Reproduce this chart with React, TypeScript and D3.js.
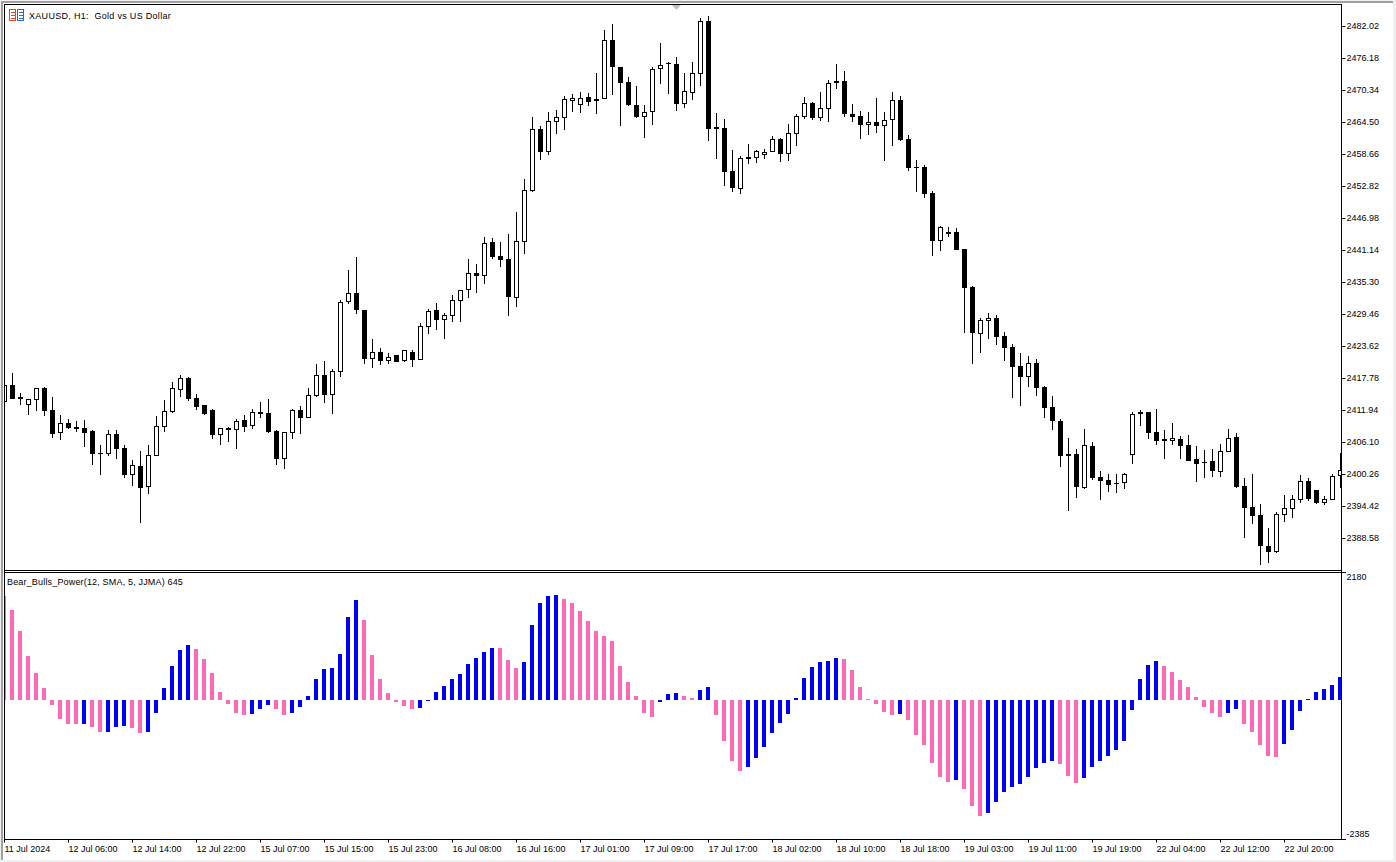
import * as d3 from "d3";
import { useEffect, useRef } from "react";

const title = "XAUUSD, H1:  Gold vs US Dollar";
const powerTitle = "Bear_Bulls_Power(12, SMA, 5, JJMA) 645";

const priceTicks = [
  2482.02, 2476.18, 2470.34, 2464.5, 2458.66, 2452.82, 2446.98, 2441.14, 2435.3,
  2429.46, 2423.62, 2417.78, 2411.94, 2406.1, 2400.26, 2394.42, 2388.58,
];
const powerTicks = [2180, -2385];
const timeLabels = [
  "11 Jul 2024", "12 Jul 06:00", "12 Jul 14:00", "12 Jul 22:00", "15 Jul 07:00", "15 Jul 15:00", "15 Jul 23:00",
  "16 Jul 08:00", "16 Jul 16:00", "17 Jul 01:00", "17 Jul 09:00", "17 Jul 17:00", "18 Jul 02:00", "18 Jul 10:00",
  "18 Jul 18:00", "19 Jul 03:00", "19 Jul 11:00", "19 Jul 19:00", "22 Jul 04:00", "22 Jul 12:00", "22 Jul 20:00",
];

const opens = [
  2413.40, 2416.50, 2414.31, 2412.85, 2413.77, 2415.95, 2411.94, 2407.74, 2409.57, 2408.84, 2408.66, 2408.11,
  2404.09, 2403.91, 2407.56, 2405.00, 2400.08, 2401.72, 2397.89, 2403.54, 2408.84, 2411.58, 2415.59, 2417.78,
  2414.13, 2412.85, 2411.94, 2407.38, 2408.66, 2408.29, 2410.12, 2409.02, 2411.58, 2411.39, 2408.11, 2402.99,
  2407.74, 2411.94, 2410.48, 2414.50, 2418.33, 2414.68, 2418.87, 2431.65, 2433.29, 2430.19, 2421.25, 2422.53,
  2420.88, 2421.98, 2420.88, 2422.53, 2421.07, 2427.09, 2430.19, 2428.37, 2429.10, 2431.83, 2433.84, 2436.94,
  2436.39, 2442.60, 2440.05, 2439.50, 2432.38, 2442.60, 2451.91, 2463.22, 2459.03, 2464.50, 2465.23, 2468.33,
  2467.60, 2469.06, 2468.33, 2468.70, 2479.47, 2474.54, 2471.80, 2467.60, 2465.41, 2466.33, 2474.17, 2475.27,
  2475.09, 2467.78, 2469.79, 2473.26, 2482.93, 2463.59, 2463.40, 2455.56, 2452.27, 2458.11, 2457.93, 2458.48,
  2459.03, 2461.40, 2458.66, 2462.31, 2465.41, 2467.97, 2465.23, 2466.87, 2471.62, 2471.98, 2465.96, 2465.59,
  2463.95, 2464.50, 2463.77, 2464.87, 2468.52, 2461.40, 2456.29, 2456.29, 2451.54, 2442.78, 2444.42, 2444.42,
  2441.32, 2434.39, 2425.81, 2428.18, 2428.73, 2425.44, 2423.44, 2419.97, 2417.96, 2420.52, 2416.13, 2412.49,
  2409.93, 2403.91, 2403.91, 2397.70, 2405.37, 2399.72, 2399.17, 2398.62, 2398.62, 2403.73, 2411.58, 2411.58,
  2407.92, 2406.65, 2406.28, 2406.65, 2405.55, 2402.99, 2402.45, 2402.63, 2400.63, 2404.27, 2407.01, 2398.07,
  2394.24, 2392.78, 2387.12, 2386.03, 2392.78, 2393.87, 2395.52, 2398.98, 2397.34, 2394.97, 2395.52, 2399.89,
];
const closes = [
  2416.50, 2413.95, 2413.95, 2413.95, 2415.95, 2411.76, 2407.56, 2409.57, 2408.66, 2408.47, 2407.74, 2403.91,
  2403.91, 2407.56, 2404.82, 2400.08, 2401.90, 2397.70, 2403.73, 2409.02, 2411.76, 2415.95, 2417.78, 2413.95,
  2412.49, 2411.21, 2407.38, 2408.66, 2408.29, 2409.93, 2408.84, 2411.58, 2411.21, 2407.92, 2402.99, 2407.92,
  2411.94, 2410.48, 2414.68, 2418.33, 2414.68, 2419.06, 2431.65, 2433.29, 2430.19, 2421.25, 2422.53, 2420.88,
  2421.61, 2420.70, 2422.89, 2421.07, 2427.27, 2430.01, 2428.37, 2429.28, 2432.02, 2433.84, 2436.94, 2436.39,
  2442.42, 2439.86, 2439.31, 2432.56, 2442.78, 2452.09, 2463.22, 2459.03, 2464.68, 2465.41, 2468.70, 2468.88,
  2468.88, 2468.15, 2468.70, 2479.47, 2474.54, 2471.62, 2467.60, 2465.41, 2466.33, 2474.17, 2474.90, 2475.09,
  2467.78, 2470.16, 2473.44, 2482.93, 2463.22, 2463.22, 2455.38, 2452.46, 2457.93, 2457.75, 2459.21, 2459.03,
  2461.40, 2458.66, 2462.49, 2465.59, 2467.97, 2465.23, 2467.05, 2471.62, 2471.98, 2465.96, 2465.41, 2463.95,
  2464.50, 2463.77, 2464.87, 2468.52, 2461.22, 2456.11, 2456.11, 2451.36, 2442.78, 2445.34, 2444.06, 2441.14,
  2434.21, 2425.99, 2428.37, 2428.73, 2425.26, 2423.25, 2419.79, 2417.96, 2420.52, 2415.95, 2412.30, 2409.93,
  2403.54, 2403.54, 2397.89, 2405.55, 2399.53, 2398.98, 2398.25, 2398.43, 2400.26, 2411.21, 2411.21, 2407.74,
  2406.28, 2406.28, 2406.83, 2405.37, 2402.63, 2402.09, 2402.27, 2400.81, 2404.46, 2406.83, 2397.89, 2394.05,
  2392.59, 2387.12, 2386.03, 2392.96, 2394.05, 2395.70, 2398.98, 2395.70, 2394.97, 2395.70, 2399.89, 2400.99,
];
const highs = [
  2416.50, 2418.69, 2415.04, 2413.95, 2415.95, 2416.13, 2414.31, 2411.03, 2410.30, 2409.93, 2410.12, 2408.29,
  2405.55, 2408.29, 2408.29, 2405.55, 2402.81, 2404.46, 2405.55, 2410.85, 2413.77, 2417.05, 2418.33, 2417.96,
  2414.86, 2412.85, 2412.12, 2408.66, 2408.84, 2410.30, 2411.03, 2412.12, 2413.40, 2413.95, 2408.29, 2407.92,
  2412.12, 2412.67, 2415.95, 2420.32, 2420.88, 2419.42, 2432.02, 2437.49, 2439.86, 2430.19, 2424.90, 2423.25,
  2422.34, 2421.98, 2422.89, 2422.89, 2427.82, 2430.37, 2431.47, 2429.64, 2432.93, 2433.84, 2439.50, 2438.58,
  2443.51, 2443.33, 2442.60, 2444.06, 2448.08, 2454.10, 2465.41, 2463.77, 2466.33, 2466.69, 2469.25, 2469.61,
  2469.97, 2469.79, 2473.44, 2481.29, 2482.39, 2474.54, 2472.71, 2471.07, 2467.60, 2474.54, 2478.92, 2475.45,
  2476.36, 2473.44, 2475.45, 2483.48, 2483.85, 2466.14, 2465.05, 2459.39, 2458.29, 2460.49, 2459.39, 2459.57,
  2461.95, 2461.58, 2464.14, 2465.96, 2469.06, 2468.15, 2469.97, 2472.17, 2475.09, 2473.81, 2467.78, 2466.51,
  2466.33, 2468.88, 2466.33, 2469.97, 2469.25, 2462.13, 2457.57, 2456.65, 2451.91, 2445.52, 2445.34, 2445.16,
  2441.32, 2434.57, 2428.73, 2429.64, 2429.28, 2426.18, 2423.98, 2422.34, 2421.79, 2421.25, 2416.32, 2414.50,
  2410.30, 2406.83, 2404.82, 2408.47, 2406.10, 2400.81, 2400.26, 2400.26, 2400.44, 2411.58, 2411.94, 2411.58,
  2412.12, 2408.29, 2409.57, 2407.19, 2407.38, 2405.37, 2404.64, 2404.82, 2405.73, 2408.47, 2407.74, 2399.53,
  2400.26, 2394.78, 2390.41, 2393.33, 2396.43, 2396.43, 2400.08, 2399.53, 2397.34, 2396.25, 2400.26, 2404.09,
];
const lows = [
  2413.40, 2413.95, 2412.85, 2411.03, 2411.76, 2410.85, 2406.83, 2406.47, 2408.47, 2407.92, 2405.19, 2401.90,
  2400.08, 2403.54, 2402.99, 2399.53, 2398.07, 2391.32, 2396.61, 2403.54, 2407.92, 2411.39, 2414.31, 2413.58,
  2411.94, 2411.03, 2406.65, 2405.55, 2406.10, 2404.82, 2407.92, 2408.47, 2410.48, 2407.74, 2401.90, 2401.17,
  2406.65, 2407.56, 2410.48, 2414.31, 2413.22, 2411.21, 2417.96, 2431.28, 2429.46, 2420.32, 2419.60, 2420.15,
  2420.32, 2420.70, 2420.70, 2419.79, 2421.07, 2425.81, 2426.54, 2424.90, 2428.00, 2428.00, 2432.38, 2433.29,
  2434.93, 2439.50, 2438.04, 2429.10, 2430.74, 2440.41, 2451.73, 2457.57, 2458.48, 2462.31, 2463.04, 2466.33,
  2466.14, 2467.42, 2465.96, 2468.70, 2469.43, 2463.77, 2467.42, 2465.23, 2461.58, 2463.95, 2471.44, 2469.61,
  2466.51, 2467.05, 2468.52, 2471.07, 2461.03, 2457.75, 2452.82, 2451.73, 2451.36, 2456.84, 2457.02, 2457.75,
  2459.03, 2457.20, 2457.38, 2460.12, 2465.05, 2464.87, 2464.68, 2464.50, 2470.52, 2465.41, 2464.50, 2461.40,
  2462.13, 2462.49, 2457.38, 2460.12, 2461.03, 2455.56, 2451.73, 2450.63, 2440.05, 2440.96, 2443.51, 2441.14,
  2425.99, 2420.32, 2422.34, 2424.90, 2423.80, 2420.88, 2414.13, 2412.67, 2416.13, 2414.50, 2410.48, 2408.29,
  2401.54, 2393.51, 2395.88, 2397.52, 2399.17, 2395.52, 2396.98, 2396.79, 2397.52, 2402.09, 2409.02, 2406.65,
  2405.55, 2402.99, 2405.55, 2402.99, 2402.63, 2398.80, 2399.53, 2399.72, 2399.72, 2404.27, 2397.70, 2388.58,
  2391.14, 2383.65, 2384.02, 2385.85, 2391.50, 2392.23, 2394.97, 2395.33, 2394.78, 2394.60, 2395.52, 2397.70,
];

const powerValues = [
  1847, 1598, 1225, 781, 480, 213, -89, -337, -426, -426, -426, -480,
  -568, -568, -480, -462, -497, -586, -568, -231, 213, 604, 888, 977,
  906, 728, 480, 142, -71, -231, -266, -249, -160, -89, -160, -266,
  -231, -124, 71, 373, 551, 568, 817, 1474, 1776, 1421, 799, 373,
  124, -36, -107, -160, -142, -18, 142, 249, 373, 462, 639, 746,
  852, 924, 924, 710, 568, 675, 1332, 1723, 1847, 1865, 1794, 1723,
  1581, 1403, 1225, 1137, 1048, 604, 320, 71, -231, -302, -36, 107,
  124, 71, 36, 178, 231, -266, -728, -1083, -1261, -1190, -1030, -835,
  -586, -408, -249, 36, 391, 586, 675, 693, 746, 728, 533, 231,
  18, -71, -213, -266, -249, -355, -622, -799, -1119, -1368, -1456, -1421,
  -1581, -1883, -2060, -2007, -1812, -1634, -1545, -1492, -1368, -1208, -1119, -1083,
  -1137, -1350, -1474, -1385, -1190, -1083, -995, -888, -728, -178, 373, 622,
  693, 604, 497, 355, 231, 53, -124, -231, -302, -231, -160, -426,
  -568, -799, -995, -1012, -781, -533, -195, 18, 142, 195, 266, 408,
];
// one letter per bar: p = pink, b = blue
const powerColors = [
  "pppppppppp", "b", "pp", "bbb", "pp", "bbbbbb", "ppppppp", "bbb", "pp", "bbbbbbbbb", "ppppppp",
  "bbbbbbbbbb", "ppp", "bbbbb", "pppppppppppp", "bbb", "pp", "bb", "pppp", "bbbbbbbbbbbb", "ppppppp",
  "b", "pppppp", "b", "ppp", "bbbbbbbbb", "ppp", "bbbbbbbbbb", "pppppppp", "bb", "ppppp", "bbbbbbbb",
].join("");

const FONT = "'Liberation Sans', Arial, sans-serif";

const App = () => {
  const svgRef = useRef<SVGSVGElement | null>(null);

  useEffect(() => {
    const width = 1396;
    const height = 862;
    const left = 4;
    const right = 1341;
    const top = 4;
    const mainBottom = 570;
    const subTop = 572;
    const bottom = 839;

    const svg = d3.select(svgRef.current);
    svg.selectAll("*").remove();

    // window chrome
    svg.append("rect").attr("width", width).attr("height", height).attr("fill", "#f0f0f0");
    svg.append("rect").attr("x", 3).attr("y", 3).attr("width", 1390).attr("height", 857).attr("fill", "#ffffff");
    svg.append("rect").attr("x", 1).attr("y", 1).attr("width", 2).attr("height", 859).attr("fill", "#a0a0a0");
    svg.append("rect").attr("x", 1).attr("y", 1).attr("width", 1392).attr("height", 2).attr("fill", "#a0a0a0");

    const defs = svg.append("defs");
    defs.append("clipPath").attr("id", "mainClip").append("rect")
      .attr("x", left + 1).attr("y", top + 1).attr("width", right - left - 1).attr("height", mainBottom - top - 1);
    defs.append("clipPath").attr("id", "subClip").append("rect")
      .attr("x", left + 1).attr("y", subTop + 1).attr("width", right - left - 1).attr("height", bottom - subTop - 1);

    const x = d3.scaleLinear().domain([0, opens.length - 1]).range([4.5, 1340.5]);
    const y = d3.scaleLinear().domain([2482.02, 2388.58]).range([26.5, 538.5]);
    const yPower = d3.scaleLinear().domain([2180, -2385]).range([577.3, 834.3]);
    const px = (v: number) => Math.floor(y(v));

    // candles
    const candles = svg.append("g").attr("clip-path", "url(#mainClip)");
    opens.forEach((open, i) => {
      const close = closes[i];
      const cx = x(i);
      const bodyTop = px(Math.max(open, close));
      const bodyBottom = px(Math.min(open, close));
      candles.append("line")
        .attr("x1", cx).attr("x2", cx)
        .attr("y1", px(highs[i])).attr("y2", px(lows[i]))
        .attr("stroke", "#000");
      if (close > open) {
        candles.append("rect")
          .attr("x", cx - 2).attr("width", 4)
          .attr("y", bodyTop + 0.5).attr("height", Math.max(bodyBottom - bodyTop - 1, 1))
          .attr("fill", "#fff").attr("stroke", "#000");
      } else {
        candles.append("rect")
          .attr("x", cx - 2.5).attr("width", 5)
          .attr("y", bodyTop).attr("height", Math.max(bodyBottom - bodyTop, 1))
          .attr("fill", "#000");
      }
    });

    // histogram
    const zero = Math.round(yPower(0));
    svg.append("g").attr("clip-path", "url(#subClip)")
      .selectAll("rect")
      .data(powerValues)
      .enter()
      .append("rect")
      .attr("x", (_, i) => x(i) - 2.5)
      .attr("width", 4)
      .attr("y", (d) => (d >= 0 ? Math.round(yPower(d)) : zero))
      .attr("height", (d) => Math.max(Math.abs(Math.round(yPower(d)) - zero), 1))
      .attr("fill", (_, i) => (powerColors[i] === "p" ? "#ff69b4" : "#0000ff"));

    // frames
    const frame = svg.append("g").attr("stroke", "#000").attr("fill", "none");
    const hLine = (yy: number, x2: number) =>
      frame.append("line").attr("x1", left).attr("x2", x2).attr("y1", yy + 0.5).attr("y2", yy + 0.5);
    hLine(top, right + 1);
    hLine(mainBottom, right + 1);
    hLine(subTop, right + 5);
    hLine(bottom, right + 5);
    frame.append("line").attr("x1", left + 0.5).attr("x2", left + 0.5).attr("y1", top).attr("y2", bottom + 1);
    frame.append("line").attr("x1", right + 0.5).attr("x2", right + 0.5).attr("y1", top).attr("y2", bottom + 1);

    // axes
    const priceAxis = d3.axisRight(y).tickValues(priceTicks).tickFormat(d3.format(".2f")).tickSize(4).tickPadding(1).offset(0);
    const gPrice = svg.append("g").attr("transform", `translate(${right + 0.5}, 0)`).call(priceAxis);
    gPrice.select(".domain").remove();

    const powerAxis = d3.axisRight(yPower).tickValues(powerTicks).tickFormat((d) => String(d)).tickSize(0).tickPadding(5).offset(0);
    const gPower = svg.append("g").attr("transform", `translate(${right + 0.5}, 0)`).call(powerAxis);
    gPower.select(".domain").remove();

    const timeAxis = d3.axisBottom(x)
      .tickValues(timeLabels.map((_, i) => i * 8))
      .tickFormat((_, i) => timeLabels[i])
      .tickSize(3)
      .tickPadding(3.5)
      .offset(0);
    const gTime = svg.append("g").attr("transform", `translate(0, ${bottom + 0.5})`).call(timeAxis);
    gTime.select(".domain").remove();
    gTime.selectAll("text").attr("text-anchor", "start").attr("x", 0);

    svg.selectAll(".tick text").attr("font-family", FONT).attr("font-size", 9).attr("fill", "#000");
    svg.selectAll(".tick line").attr("stroke", "#000");

    // shift marker on the top edge
    svg.append("path").attr("d", "M672,5 L681,5 L676.5,10 Z").attr("fill", "#c0c0c0");

    // chart icon
    const icon = svg.append("g").attr("fill", "none");
    icon.append("rect").attr("x", 9.5).attr("y", 9.5).attr("width", 6).attr("height", 11).attr("stroke", "#e8432e");
    icon.append("rect").attr("x", 17.5).attr("y", 9.5).attr("width", 6).attr("height", 11).attr("stroke", "#2a6db5");
    [12.5, 15.5, 18.5].forEach((yy) => {
      icon.append("line").attr("x1", 11).attr("x2", 15).attr("y1", yy).attr("y2", yy).attr("stroke", "#e8432e");
      icon.append("line").attr("x1", 19).attr("x2", 23).attr("y1", yy).attr("y2", yy).attr("stroke", "#2a6db5");
    });

    svg.append("text").attr("x", 29).attr("y", 19)
      .attr("font-family", FONT).attr("font-size", 9).attr("letter-spacing", 0.3).attr("fill", "#000")
      .style("white-space", "pre").text(title);
    svg.append("text").attr("x", 7).attr("y", 585)
      .attr("font-family", FONT).attr("font-size", 9).attr("letter-spacing", 0.17).attr("fill", "#000").text(powerTitle);
  }, []);

  return (
    <svg
      ref={svgRef}
      width={1396}
      height={862}
      style={{ position: "absolute", left: 0, top: 0, display: "block" }}
    ></svg>
  );
};

export default App;
